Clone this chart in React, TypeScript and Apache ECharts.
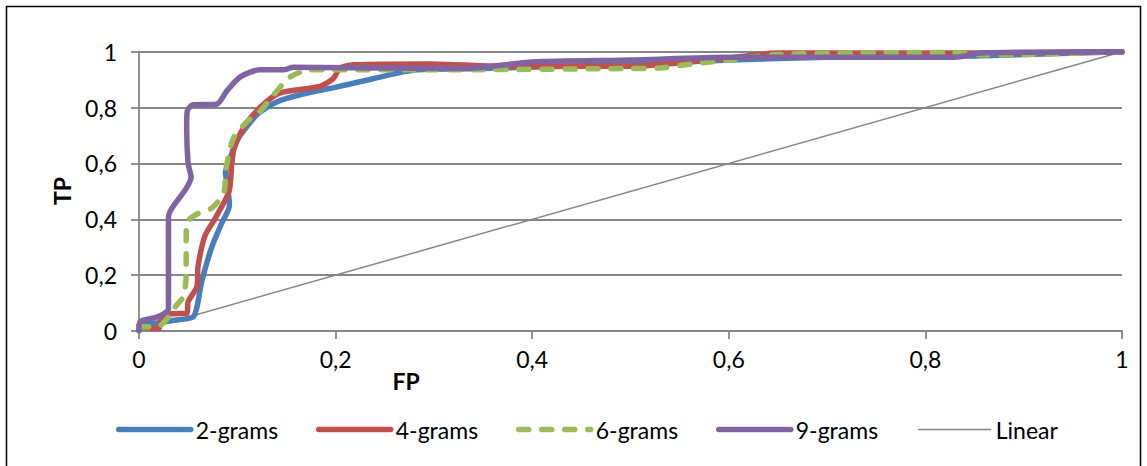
import React, { useEffect, useRef } from "react";
import * as echarts from "echarts";

// 2-grams
const fp2 = [0, 0.003, 0.02, 0.04, 0.055, 0.059, 0.064, 0.074, 0.084, 0.092, 0.09, 0.088, 0.093, 0.099, 0.12, 0.14, 0.164, 0.204, 0.24, 0.282, 0.35, 0.5, 0.6, 0.7, 0.85, 1];
const tp2 = [0, 0.02, 0.03, 0.04, 0.05, 0.087, 0.18, 0.3, 0.385, 0.45, 0.52, 0.566, 0.62, 0.68, 0.774, 0.82, 0.846, 0.876, 0.905, 0.935, 0.94, 0.955, 0.97, 0.98, 0.985, 1];
// 4-grams
const fp4 = [0, 0.006, 0.02, 0.023, 0.033, 0.049, 0.05, 0.059, 0.06, 0.067, 0.077, 0.086, 0.092, 0.096, 0.106, 0.123, 0.143, 0.184, 0.198, 0.204, 0.218, 0.296, 0.364, 0.5, 0.6, 0.65, 0.85, 1];
const tp4 = [0.02, 0.012, 0.01, 0.047, 0.062, 0.064, 0.105, 0.16, 0.23, 0.34, 0.4, 0.457, 0.505, 0.643, 0.726, 0.8, 0.852, 0.876, 0.905, 0.94, 0.953, 0.956, 0.948, 0.948, 0.978, 0.995, 0.995, 1];
// 6-grams
const fp6 = [0, 0.004, 0.019, 0.03, 0.037, 0.045, 0.048, 0.048, 0.049, 0.057, 0.074, 0.084, 0.087, 0.089, 0.096, 0.11, 0.123, 0.137, 0.154, 0.174, 0.3, 0.5, 0.53, 0.567, 0.6, 0.65, 0.83, 0.86, 1];
const tp6 = [0.01, 0.015, 0.015, 0.05, 0.087, 0.123, 0.2, 0.326, 0.39, 0.415, 0.44, 0.48, 0.505, 0.59, 0.69, 0.75, 0.786, 0.846, 0.91, 0.935, 0.935, 0.94, 0.942, 0.958, 0.97, 0.99, 0.997, 0.988, 1];
// 9-grams
const fp9 = [0, 0.001, 0.013, 0.023, 0.03, 0.03, 0.047, 0.053, 0.05, 0.0485, 0.049, 0.055, 0.079, 0.089, 0.103, 0.123, 0.147, 0.157, 0.33, 0.4, 0.5, 0.6, 0.83, 0.855, 1];
const tp9 = [0.005, 0.033, 0.045, 0.057, 0.081, 0.41, 0.505, 0.55, 0.6, 0.726, 0.786, 0.81, 0.812, 0.858, 0.91, 0.935, 0.935, 0.944, 0.94, 0.963, 0.97, 0.98, 0.98, 0.995, 1];
// Linear
const fpLin = [0, 1];
const tpLin = [0, 1];

const seriesNames = ["2-grams", "4-grams", "6-grams", "9-grams", "Linear"];
const seriesColors = ["#4A7EBB", "#C0504D", "#9BBB59", "#8064A2", "#868686"];
const legendLefts = [116, 316, 516, 716, 918];

const zip = (xs: number[], ys: number[]) => xs.map((x, i) => [x, ys[i]]);

const FONT = "Lato";
const GRID_COLOR = "#868686";
const LW = 5.5;
const DASH = [10, 13];

export default function App() {
  const ref = useRef<HTMLDivElement>(null);
  useEffect(() => {
    if (!ref.current) return;
    const chart = echarts.init(ref.current, undefined, { renderer: "svg" });
    const fmt = (v: number) => String(Number(v.toFixed(1))).replace(".", ",");
    const lineSeries = (name: string, data: number[][], color: string, extra: any = {}) => ({
      name,
      type: "line",
      data,
      symbol: "none",
      smooth: 0.25,
      lineStyle: { color, width: LW, cap: "round", join: "round", ...extra },
      itemStyle: { color },
      z: 3,
    });
    chart.setOption({
      animation: false,
      backgroundColor: "#fff",
      grid: { left: 139, right: 25, top: 51.7, bottom: 135, containLabel: false },
      xAxis: {
        type: "value",
        min: 0,
        max: 1,
        interval: 0.2,
        axisLine: { show: true, lineStyle: { color: GRID_COLOR, width: 1.8 } },
        axisTick: { show: true, length: 8, lineStyle: { color: GRID_COLOR, width: 1.8 } },
        splitLine: { show: false },
        axisLabel: { formatter: fmt, margin: 16, fontSize: 23, color: "#000", fontFamily: FONT },
      },
      yAxis: {
        type: "value",
        min: 0,
        max: 1,
        interval: 0.2,
        axisLine: { show: true, lineStyle: { color: GRID_COLOR, width: 1.8 } },
        axisTick: { show: true, length: 8, lineStyle: { color: GRID_COLOR, width: 1.8 } },
        splitLine: { show: true, lineStyle: { color: GRID_COLOR, width: 1.8 } },
        axisLabel: { formatter: fmt, margin: 22, fontSize: 23, color: "#000", fontFamily: FONT },
      },
      legend: seriesNames.map((n, i) => ({
        data: [n],
        left: legendLefts[i],
        top: 418,
        padding: 0,
        itemWidth: 72,
        itemHeight: 14,
        itemGap: 0,
        itemStyle: { opacity: 0 },
        lineStyle: {
          color: seriesColors[i],
          width: i === 4 ? 1.5 : LW,
          cap: "round",
          type: i === 2 ? DASH : "solid",
        },
        textStyle: { fontSize: 23, color: "#000", fontFamily: FONT },
        selectedMode: false,
      })),
      graphic: [
        {
          type: "rect",
          shape: { x: 6.5, y: 6.5, width: 1134, height: 470 },
          style: { fill: "none", stroke: "#000", lineWidth: 1.5 },
          silent: true,
        },
        {
          type: "text",
          x: 406,
          y: 381,
          style: { text: "FP", fontSize: 23, fontWeight: "bold", fontFamily: FONT, fill: "#000", textAlign: "center", textVerticalAlign: "middle" },
        },
        {
          type: "text",
          x: 62,
          y: 191,
          rotation: Math.PI / 2,
          style: { text: "TP", fontSize: 23, fontWeight: "bold", fontFamily: FONT, fill: "#000", textAlign: "center", textVerticalAlign: "middle" },
        },
      ],
      series: [
        {
          name: "Linear",
          type: "line",
          data: zip(fpLin, tpLin),
          symbol: "none",
          lineStyle: { color: GRID_COLOR, width: 1.5 },
          itemStyle: { color: GRID_COLOR },
          z: 2,
        },
        lineSeries("2-grams", zip(fp2, tp2), seriesColors[0]),
        lineSeries("4-grams", zip(fp4, tp4), seriesColors[1]),
        lineSeries("6-grams", zip(fp6, tp6), seriesColors[2], { type: DASH }),
        lineSeries("9-grams", zip(fp9, tp9), seriesColors[3]),
      ],
    });
    return () => chart.dispose();
  }, []);
  return (
    <div
      ref={ref}
      style={{ position: "fixed", left: 0, top: 0, width: 1147, height: 466 }}
    />
  );
}
